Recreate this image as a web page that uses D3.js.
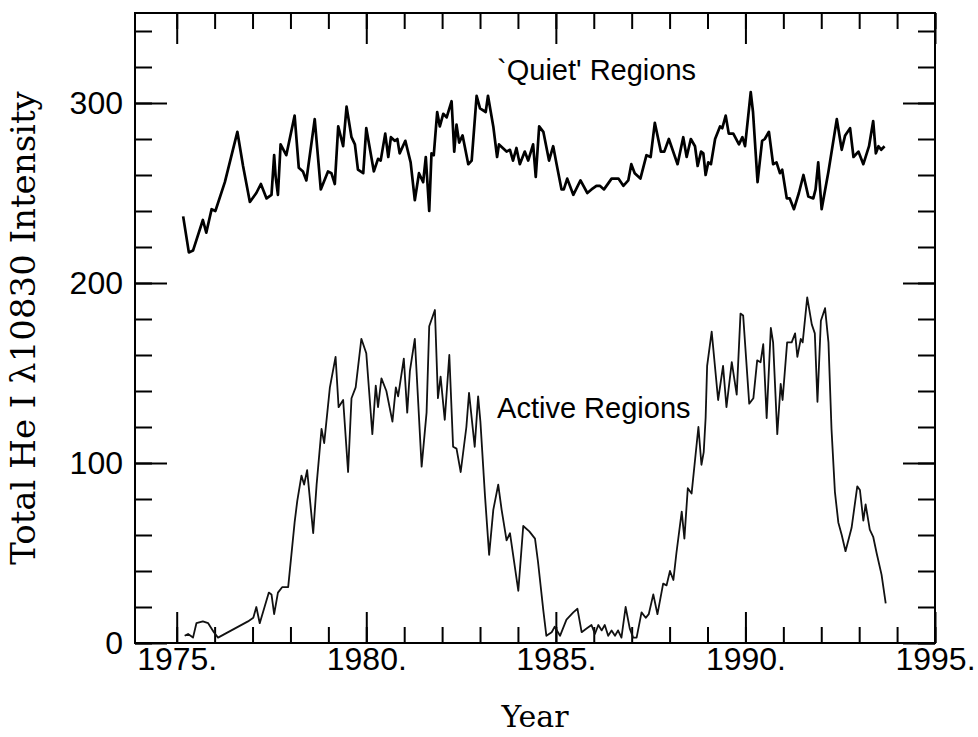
<!DOCTYPE html>
<html>
<head>
<meta charset="utf-8">
<script src="https://cdn.jsdelivr.net/npm/d3@7"></script>
<style>
  body { margin: 0; background: #fff; }
  svg { display: block; }
  .frame { fill: none; stroke: #000; stroke-width: 2; }
  .tick line { stroke: #000; stroke-width: 2; }
  .domain { display: none; }
  .tick text { font-family: "Liberation Sans", Arial, sans-serif; font-size: 32px; fill: #000; }
  .axis-title { font-family: "DejaVu Serif", serif; fill: #000; }
  .note { font-family: "Liberation Sans", Arial, sans-serif; font-size: 29px; fill: #000; }
</style>
</head>
<body>
<div id="chart"></div>
<script>
// values, year / intensity
var quietYear = [1975.17,1975.32,1975.43,1975.69,1975.78,1975.92,1976.02,1976.27,1976.60,1976.75,1976.93,1977.10,1977.22,1977.37,1977.50,1977.57,1977.61,1977.67,1977.74,1977.89,
  1978.11,1978.22,1978.33,1978.42,1978.64,1978.80,1978.99,1979.08,1979.17,1979.26,1979.39,1979.48,1979.61,1979.70,1979.78,1979.92,1980.00,1980.20,1980.31,1980.38,
  1980.50,1980.58,1980.65,1980.75,1980.82,1980.88,1981.03,1981.17,1981.28,1981.39,1981.50,1981.57,1981.66,1981.72,1981.78,1981.87,1981.94,1982.03,1982.12,1982.25,
  1982.32,1982.38,1982.45,1982.54,1982.69,1982.78,1982.91,1983.00,1983.15,1983.21,1983.35,1983.45,1983.50,1983.70,1983.79,1983.87,1983.96,1984.05,1984.18,1984.27,
  1984.40,1984.47,1984.56,1984.67,1984.82,1984.93,1985.02,1985.15,1985.21,1985.30,1985.46,1985.65,1985.83,1985.94,1986.07,1986.16,1986.27,1986.47,1986.65,1986.78,
  1986.91,1986.99,1987.08,1987.23,1987.39,1987.50,1987.61,1987.77,1987.86,1987.98,1988.21,1988.36,1988.45,1988.56,1988.67,1988.74,1988.83,1988.89,1988.95,1989.02,
  1989.09,1989.20,1989.33,1989.39,1989.48,1989.56,1989.68,1989.83,1989.92,1989.99,1990.14,1990.20,1990.32,1990.44,1990.51,1990.62,1990.73,1990.82,1990.91,1990.97,
  1991.09,1991.17,1991.28,1991.41,1991.53,1991.66,1991.79,1991.85,1991.92,1992.01,1992.19,1992.41,1992.54,1992.63,1992.76,1992.85,1992.98,1993.11,1993.26,1993.37,
  1993.44,1993.51,1993.58,1993.67];
var quietVal = [237,217,218,235,228,241,240,256,284,265,245,250,255,247,249,271,259,249,277,271,
  293,264,262,257,291,252,262,261,255,287,276,298,281,277,263,261,286,262,269,268,
  283,270,281,279,280,272,279,267,246,261,256,270,240,272,271,295,287,294,292,301,
  273,288,278,282,266,268,304,297,295,304,287,270,277,273,274,268,275,266,273,268,
  277,259,287,284,268,276,266,252,252,258,249,257,250,252,254,254,252,258,258,254,
  257,266,261,258,271,270,289,273,273,280,266,281,270,280,276,265,273,272,260,267,
  266,280,287,286,293,283,283,277,281,276,306,295,256,279,280,284,266,267,261,263,
  247,247,241,250,260,248,247,252,267,241,262,291,274,282,286,270,273,266,276,290,
  272,276,274,276];

var activeYear = [1975.21,1975.30,1975.43,1975.52,1975.69,1975.83,1975.98,1976.09,1976.88,1977.02,1977.10,1977.19,1977.43,1977.50,1977.57,1977.67,1977.78,1977.94,
  1978.11,1978.18,1978.29,1978.36,1978.44,1978.60,1978.69,1978.82,1978.89,1979.04,1979.19,1979.27,1979.39,1979.52,1979.61,1979.72,1979.87,1980.00,
  1980.16,1980.25,1980.31,1980.40,1980.53,1980.69,1980.78,1980.84,1980.99,1981.08,1981.15,1981.28,1981.46,1981.59,1981.66,1981.81,1981.89,1981.96,
  1982.07,1982.19,1982.29,1982.38,1982.49,1982.64,1982.71,1982.86,1982.95,1983.01,1983.13,1983.24,1983.35,1983.48,1983.57,1983.70,1983.79,1984.01,
  1984.14,1984.30,1984.45,1984.53,1984.67,1984.75,1984.89,1984.97,1985.11,1985.28,1985.46,1985.57,1985.68,1985.81,1985.94,1986.03,1986.12,1986.21,
  1986.29,1986.38,1986.47,1986.56,1986.64,1986.73,1986.84,1986.95,1987.04,1987.13,1987.26,1987.37,1987.45,1987.57,1987.68,1987.83,1987.92,1988.01,
  1988.10,1988.18,1988.32,1988.39,1988.48,1988.58,1988.76,1988.84,1988.90,1988.95,1988.99,1989.11,1989.28,1989.41,1989.50,1989.64,1989.77,1989.87,
  1989.94,1990.10,1990.21,1990.31,1990.40,1990.47,1990.56,1990.67,1990.73,1990.84,1990.93,1990.98,1991.10,1991.22,1991.31,1991.37,1991.46,1991.51,
  1991.63,1991.75,1991.83,1991.90,1991.99,1992.10,1992.19,1992.27,1992.36,1992.45,1992.54,1992.64,1992.80,1992.95,1993.02,1993.11,1993.17,1993.28,
  1993.37,1993.46,1993.59,1993.70];
var activeVal = [4,5,3,11,12,11,6,3,12,14,20,11,28,27,16,28,31,31,
  67,79,93,88,96,61,88,119,111,142,159,131,135,95,136,142,169,161,
  116,143,131,147,140,123,142,137,158,128,151,169,98,128,176,185,136,148,
  124,160,109,108,95,120,139,109,137,123,82,49,74,88,74,57,61,29,
  65,62,58,45,18,4,6,9,4,13,17,19,6,8,10,5,10,7,
  10,4,7,4,7,3,20,8,3,3,17,14,16,27,16,33,32,40,
  35,50,73,58,86,83,120,99,106,125,154,173,135,154,131,156,138,183,
  182,133,136,157,156,166,125,175,167,116,144,135,167,167,172,159,169,167,
  192,177,172,134,179,186,167,119,84,67,60,51,64,87,85,68,77,63,
  59,50,38,22];

var xMajor = [1975, 1980, 1985, 1990, 1995];
var yMajor = [0, 100, 200, 300];
var notes = [
  {text: "`Quiet' Regions", year: 1983.45, value: 313},
  {text: "Active Regions", year: 1983.45, value: 125}
];

var width = 978, height = 737,
    margin = {top: 13, right: 43, bottom: 94, left: 135},
    plotW = width - margin.left - margin.right,
    plotH = height - margin.top - margin.bottom;

var x = d3.scaleLinear().domain([1973.9, 1995]).range([0, plotW]);
var y = d3.scaleLinear().domain([0, 350]).range([plotH, 0]);

var svg = d3.select("#chart").append("svg")
    .attr("width", width)
    .attr("height", height)
  .append("g")
    .attr("transform", "translate(" + margin.left + "," + margin.top + ")");

var xMinor = d3.range(1975, 1996, 1);
var yMinor = d3.range(0, 341, 20);

// minor ticks (no labels)
svg.append("g").attr("transform", "translate(0," + plotH + ")")
  .call(d3.axisBottom(x).tickValues(xMinor).tickSize(-16).tickFormat(""));
svg.append("g")
  .call(d3.axisTop(x).tickValues(xMinor).tickSize(-16).tickFormat(""));
svg.append("g")
  .call(d3.axisLeft(y).tickValues(yMinor).tickSize(-17).tickFormat(""));
svg.append("g").attr("transform", "translate(" + plotW + ",0)")
  .call(d3.axisRight(y).tickValues(yMinor).tickSize(-17).tickFormat(""));

// major ticks
svg.append("g").attr("transform", "translate(0," + plotH + ")")
  .call(d3.axisBottom(x).tickValues(xMajor).tickSize(-31).tickPadding(4)
    .tickFormat(function (d) { return d + "."; }));
svg.append("g")
  .call(d3.axisTop(x).tickValues(xMajor).tickSize(-31).tickFormat(""));
svg.append("g")
  .call(d3.axisLeft(y).tickValues(yMajor).tickSize(-32).tickPadding(12)
    .tickFormat(d3.format("d")));
svg.append("g").attr("transform", "translate(" + plotW + ",0)")
  .call(d3.axisRight(y).tickValues(yMajor).tickSize(-32).tickFormat(""));

svg.append("rect").attr("class", "frame")
  .attr("width", plotW).attr("height", plotH);

var line = d3.line()
  .x(function (d) { return x(d[0]); })
  .y(function (d) { return y(d[1]); });

svg.append("path")
  .datum(d3.zip(quietYear, quietVal))
  .attr("d", line)
  .attr("fill", "none")
  .attr("stroke", "#000")
  .attr("stroke-width", 2.7)
  .attr("stroke-linejoin", "round");

svg.append("path")
  .datum(d3.zip(activeYear, activeVal))
  .attr("d", line)
  .attr("fill", "none")
  .attr("stroke", "#111")
  .attr("stroke-width", 1.8)
  .attr("stroke-linejoin", "round");

svg.selectAll(".note")
  .data(notes)
  .enter().append("text")
    .attr("class", "note")
    .attr("x", function (d) { return x(d.year); })
    .attr("y", function (d) { return y(d.value); })
    .text(function (d) { return d.text; });

svg.append("text").attr("class", "axis-title")
  .attr("x", plotW / 2)
  .attr("y", height - margin.top - 10)
  .attr("text-anchor", "middle")
  .style("font-size", "30px")
  .text("Year");

svg.append("text").attr("class", "axis-title")
  .attr("transform", "translate(" + (35 - margin.left) + "," + (plotH / 2) + ") rotate(-90)")
  .attr("text-anchor", "middle")
  .style("font-size", "34px")
  .text("Total He I λ10830 Intensity");
</script>
</body>
</html>
